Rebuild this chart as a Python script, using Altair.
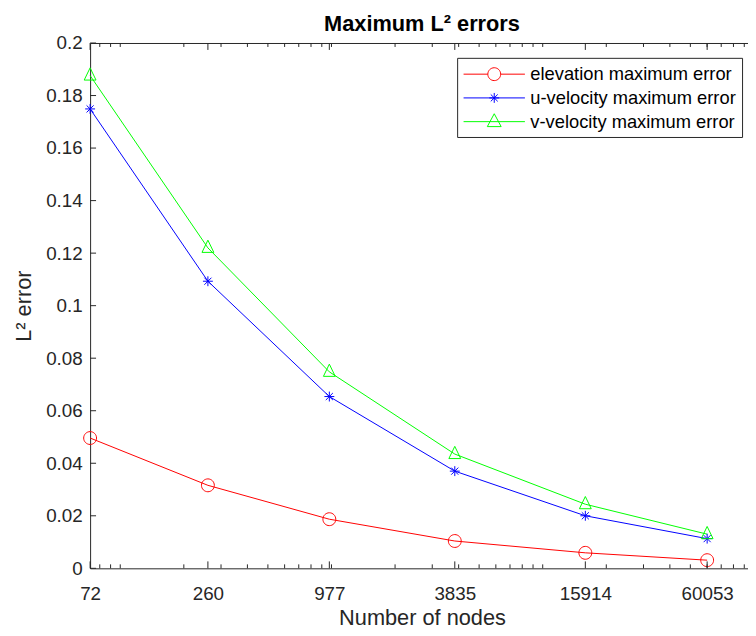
import altair as alt
import pandas as pd

# ---- data ----
nodes = [72, 260, 977, 3835, 15914, 60053]
elevation_err = [0.0496, 0.0316, 0.0187, 0.0104, 0.0059, 0.0031]
u_err = [0.1749, 0.1093, 0.0654, 0.0370, 0.0200, 0.0113]
v_err = [0.1876, 0.1220, 0.0748, 0.0435, 0.0244, 0.0130]
series_names = ["elevation maximum error", "u-velocity maximum error", "v-velocity maximum error"]
series_colors = ["#FF0000", "#0000FF", "#00FF00"]
title_text = ["Maximum L² errors"]

x_major = [72, 260, 977, 3835, 15914, 60053]
x_minor = [80, 90, 100, 200, 300, 400, 500, 600, 700, 800, 900,
           1000, 2000, 3000, 4000, 5000, 6000, 7000, 8000, 9000,
           10000, 20000, 30000, 40000, 50000, 60000, 70000, 80000, 90000]
y_ticks = [0, 0.02, 0.04, 0.06, 0.08, 0.1, 0.12, 0.14, 0.16, 0.18, 0.2]

rows = []
for name, vals in zip(series_names, [elevation_err, u_err, v_err]):
    for n, v in zip(nodes, vals):
        rows.append({"nodes": n, "err": v, "series": name})
df = pd.DataFrame(rows)

W, H = 671, 531
AX = "#262626"
FONT = "Liberation Sans"

xscale = alt.Scale(type="log", domain=[72, 100000], nice=False)
yscale = alt.Scale(domain=[0, 0.2], nice=False, zero=False)

marker_paths = [
    "M1,0A1,1 0 1,1 -1,0A1,1 0 1,1 1,0Z",
    "M0,-0.77L0,0.77M-0.77,0L0.77,0M-0.55,-0.55L0.55,0.55M-0.55,0.55L0.55,-0.55",
    "M0,-1.2L0.92,0.7L-0.92,0.7Z",
]
legend_paths = [
    "M-1,0L1.45,0M2.75,0L5.2,0M2.75,0A0.65,0.65 0 1,1 1.45,0A0.65,0.65 0 1,1 2.75,0",
    "M-1,0L5.2,0M2.1,-0.5L2.1,0.5M1.6,0L2.6,0M1.75,-0.35L2.45,0.35M1.75,0.35L2.45,-0.35",
    "M-1,0L5.2,0M2.1,-0.8L2.8,0.5L1.4,0.5Z",
]

cscale = alt.Scale(domain=series_names, range=series_colors)

xaxis = alt.Axis(values=x_major, format="d", labelFlush=False, labelOverlap=False,
                 ticks=False, domain=False, grid=False, labelPadding=17,
                 labelFontSize=19, title="Number of nodes", titleFontSize=22,
                 titlePadding=4, titleFontWeight="normal")
yaxis = alt.Axis(values=y_ticks, format=".2~f", ticks=False, domain=False, grid=False,
                 labelPadding=8, labelFontSize=19, title="L² error", titleFontSize=22,
                 titlePadding=10, titleFontWeight="normal")

lines = alt.Chart(df).mark_line(strokeWidth=1).encode(
    x=alt.X("nodes:Q", scale=xscale, axis=xaxis),
    y=alt.Y("err:Q", scale=yscale, axis=yaxis),
    color=alt.Color("series:N", scale=cscale, legend=None),
)

points = alt.Chart(df).mark_point(filled=False, strokeWidth=1, opacity=1, size=169).encode(
    x=alt.X("nodes:Q", scale=xscale, axis=xaxis),
    y=alt.Y("err:Q", scale=yscale, axis=yaxis),
    color=alt.Color("series:N", scale=cscale, legend=None),
    shape=alt.Shape("series:N", scale=alt.Scale(domain=series_names, range=marker_paths), legend=None),
)

leg = alt.Legend(title=None, orient="none", legendX=371, legendY=15, symbolSize=400,
                 symbolStrokeWidth=1, labelFontSize=18.5, labelFont=FONT, labelColor="#000000",
                 labelOffset=47, labelLimit=400, padding=6, rowPadding=4,
                 strokeColor=AX, fillColor="white", cornerRadius=0)

legend_layer = alt.Chart(df).transform_filter("false").mark_point(
    filled=False, strokeWidth=1, opacity=1).encode(
    color=alt.Color("series:N", scale=cscale, legend=leg),
    shape=alt.Shape("series:N", scale=alt.Scale(domain=series_names, range=legend_paths), legend=leg),
)

def xticks(vals, y0, y1):
    return alt.Chart(pd.DataFrame({"t": vals})).mark_rule(color=AX, strokeWidth=1).encode(
        x=alt.X("t:Q", scale=xscale, axis=xaxis), y=alt.value(y0), y2=alt.value(y1))

ytick_layer = alt.Chart(pd.DataFrame({"t": y_ticks})).mark_rule(color=AX, strokeWidth=1).encode(
    y=alt.Y("t:Q", scale=yscale, axis=yaxis), x=alt.value(0), x2=alt.value(6))

title_layer = alt.Chart(pd.DataFrame({"t": title_text})).mark_text(
    font=FONT, fontSize=22, fontWeight="bold", color="#000000",
    align="center", baseline="alphabetic").encode(
    text="t:N", x=alt.value(W / 2), y=alt.value(-12))

chart = alt.layer(
    lines, points,
    xticks(x_major, H, H - 7), xticks(x_major, 0, 7),
    xticks(x_minor, H, H - 4), xticks(x_minor, 0, 4),
    ytick_layer, legend_layer, title_layer,
).resolve_scale(color="independent", shape="independent").properties(
    width=W, height=H,
    padding={"left": 83, "top": 32, "right": -6, "bottom": 62},
    autosize=alt.AutoSizeParams(type="none"),
).configure(font=FONT, background="white").configure_view(
    stroke=AX, strokeWidth=1
).configure_axis(labelColor=AX, titleColor=AX, labelFont=FONT, titleFont=FONT)

chart.save("out.html", embed_options={"renderer": "svg", "actions": False})
